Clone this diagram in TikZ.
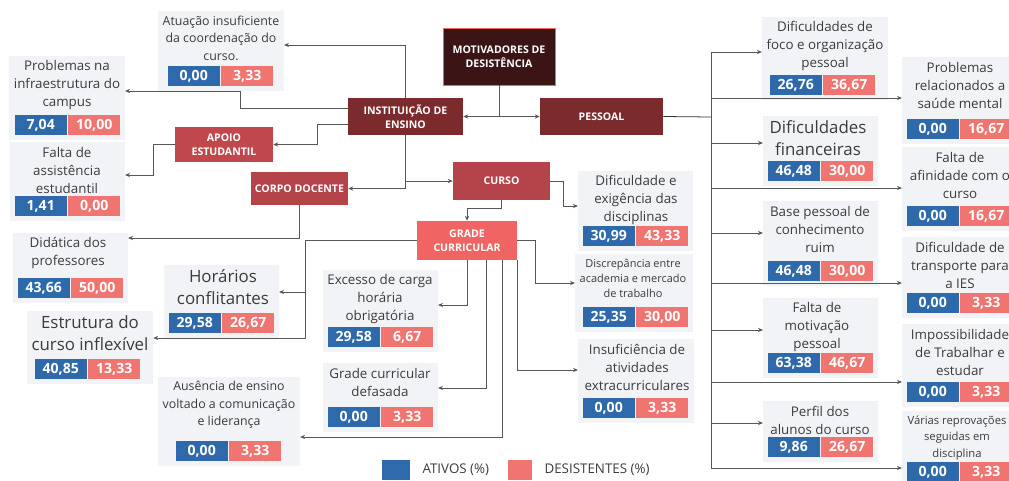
\documentclass[tikz,border=0pt]{standalone}
\usepackage{fontspec}
\setmainfont{Open Sans}
\usepackage{tikz}
\usetikzlibrary{positioning,calc,fit,backgrounds,arrows.meta}
\definecolor{titlecol}{HTML}{3B1515}
\definecolor{maincol}{HTML}{7B2B2B}
\definecolor{subcol}{HTML}{B5434A}
\definecolor{apoiocol}{HTML}{C0474C}
\definecolor{gradecol}{HTML}{F06464}
\definecolor{ativocol}{HTML}{2E69AB}
\definecolor{desistcol}{HTML}{F07470}
\definecolor{panelcol}{HTML}{F1F3F6}
\definecolor{linecol}{HTML}{575757}
\definecolor{txtcol}{HTML}{3C3C3C}

\begin{document}
\begin{tikzpicture}[x=0.025cm, y=-0.025cm,
		>={Stealth[length=3.5pt,width=3pt]},
		conn/.style={draw=linecol, line width=0.55pt},
		cat/.style={text=white, font=\fontsize{7.5}{10}\selectfont\bfseries, align=center, inner sep=0pt},
		leaf/.style={align=center, inner sep=0pt, text=txtcol},
		tinytxt/.style={font=\fontsize{7.8}{10.7}\selectfont},
		smalltxt/.style={font=\fontsize{8.8}{12.5}\selectfont},
		medtxt/.style={font=\fontsize{9.5}{12.8}\selectfont},
		bigtxt/.style={font=\fontsize{12}{15.5}\selectfont},
		ativo/.style={fill=ativocol, text=white, font=\fontsize{10}{12}\selectfont\bfseries, minimum width=1.3cm, minimum height=0.5cm, inner sep=0pt},
		desist/.style={ativo, fill=desistcol},
		panel/.style={fill=panelcol, inner sep=3pt}]
			\useasboundingbox (0,0) rectangle (1009,481);
			\clip (0,0) rectangle (1009,481);
			% categorias
			\node[cat, fill=titlecol, draw=gradecol, minimum width=2.8cm, minimum height=1.425cm] (title) at (499,56.5) {MOTIVADORES DE\\DESISTÊNCIA} ;
			\node[cat, fill=maincol, minimum width=2.875cm, minimum height=0.925cm] (inst) at (405.5,116.5) {INSTITUIÇÃO DE\\ENSINO} ;
			\node[cat, fill=maincol, minimum width=3.075cm, minimum height=0.925cm] (pessoal) at (601.5,116.5) {PESSOAL} ;
			\node[cat, fill=subcol, minimum width=2.425cm, minimum height=0.95cm] (curso) at (501.5,181) {CURSO} ;
			\node[cat, fill=apoiocol, minimum width=2.45cm, minimum height=0.875cm] (apoio) at (224,144.5) {APOIO\\ESTUDANTIL} ;
			\node[cat, fill=subcol, minimum width=2.425cm, minimum height=0.825cm] (corpo) at (299.5,188.5) {CORPO DOCENTE} ;
			\node[cat, fill=gradecol, minimum width=2.5cm, minimum height=0.975cm] (grade) at (467,240.5) {GRADE\\CURRICULAR} ;
			% instituicao / apoio / corpo docente
			\node[leaf, smalltxt] (atu-t) at (221,38) {Atuação insuficiente\\da coordenação do\\curso.} ;
			\node[ativo, anchor=east] (atu-a) at (220,76) {0,00} ;
			\node[desist, right=0.7pt of atu-a] (atu-d) {3,33} ;
			\node[leaf, medtxt] (infra-t) at (67,85) {Problemas na\\infraestrutura do\\campus} ;
			\node[ativo, anchor=east] (infra-a) at (67,125) {7,04} ;
			\node[desist, right=0.7pt of infra-a] (infra-d) {10,00} ;
			\node[leaf, medtxt] (assist-t) at (67,170) {Falta de\\assistência\\estudantil} ;
			\node[ativo, anchor=east] (assist-a) at (67,206) {1,41} ;
			\node[desist, right=0.7pt of assist-a] (assist-d) {0,00} ;
			\node[leaf, medtxt] (didat-t) at (68,253) {Didática dos\\professores} ;
			\node[ativo, anchor=east] (didat-a) at (70,288) {43,66} ;
			\node[desist, right=0.7pt of didat-a] (didat-d) {50,00} ;
			% grade curricular
			\node[leaf, bigtxt] (horar-t) at (223,287) {Horários\\conflitantes} ;
			\node[ativo, anchor=east] (horar-a) at (221,323) {29,58} ;
			\node[desist, right=0.7pt of horar-a] (horar-d) {26,67} ;
			\node[leaf, bigtxt] (estrut-t) at (90,333) {Estrutura do\\curso inflexível} ;
			\node[ativo, anchor=east] (estrut-a) at (87,369) {40,85} ;
			\node[desist, right=0.7pt of estrut-a] (estrut-d) {13,33} ;
			\node[leaf, smalltxt] (ausen-t) at (229,405) {Ausência de ensino\\voltado a comunicação\\e liderança} ;
			\node[ativo, anchor=east] (ausen-a) at (228,451) {0,00} ;
			\node[desist, right=0.7pt of ausen-a] (ausen-d) {3,33} ;
			\node[leaf, medtxt] (exces-t) at (380,299) {Excesso de carga\\horária\\obrigatória} ;
			\node[ativo, anchor=east] (exces-a) at (380,337) {29,58} ;
			\node[desist, right=0.7pt of exces-a] (exces-d) {6,67} ;
			\node[leaf, medtxt] (defas-t) at (380,382) {Grade curricular\\defasada} ;
			\node[ativo, anchor=east] (defas-a) at (380,417) {0,00} ;
			\node[desist, right=0.7pt of defas-a] (defas-d) {3,33} ;
			% curso
			\node[leaf, medtxt] (dific-t) at (636,200) {Dificuldade e\\exigência das\\disciplinas} ;
			\node[ativo, anchor=east] (dific-a) at (635,236) {30,99} ;
			\node[desist, right=0.7pt of dific-a] (dific-d) {43,33} ;
			\node[leaf, tinytxt] (discr-t) at (633,278) {Discrepância entre\\academia e mercado\\de trabalho} ;
			\node[ativo, anchor=east] (discr-a) at (635,317) {25,35} ;
			\node[desist, right=0.7pt of discr-a] (discr-d) {30,00} ;
			\node[leaf, medtxt] (insuf-t) at (637,367) {Insuficiência de\\atividades\\extracurriculares} ;
			\node[ativo, anchor=east] (insuf-a) at (635,408) {0,00} ;
			\node[desist, right=0.7pt of insuf-a] (insuf-d) {3,33} ;
			% pessoal
			\node[leaf, medtxt] (foco-t) at (825,46) {Dificuldades de\\foco e organização\\pessoal} ;
			\node[ativo, anchor=east] (foco-a) at (822,85) {26,76} ;
			\node[desist, right=0.7pt of foco-a] (foco-d) {36,67} ;
			\node[leaf, bigtxt] (finan-t) at (818,138) {Dificuldades\\financeiras} ;
			\node[ativo, anchor=east] (finan-a) at (820,171) {46,48} ;
			\node[desist, right=0.7pt of finan-a] (finan-d) {30,00} ;
			\node[leaf, medtxt] (base-t) at (820,229) {Base pessoal de\\conhecimento\\ruim} ;
			\node[ativo, anchor=east] (base-a) at (820,271) {46,48} ;
			\node[desist, right=0.7pt of base-a] (base-d) {30,00} ;
			\node[leaf, medtxt] (motiv-t) at (817,327) {Falta de\\motivação\\pessoal} ;
			\node[ativo, anchor=east] (motiv-a) at (820,363) {63,38} ;
			\node[desist, right=0.7pt of motiv-a] (motiv-d) {46,67} ;
			\node[leaf, medtxt] (perfil-t) at (820,420) {Perfil dos\\alunos do curso} ;
			\node[ativo, anchor=east] (perfil-a) at (820,447) {9,86} ;
			\node[desist, right=0.7pt of perfil-a] (perfil-d) {26,67} ;
			\node[leaf, medtxt] (saude-t) at (960,85) {Problemas\\relacionados a\\saúde mental} ;
			\node[ativo, anchor=east] (saude-a) at (959,129) {0,00} ;
			\node[desist, right=0.7pt of saude-a] (saude-d) {16,67} ;
			\node[leaf, medtxt] (afin-t) at (960,175) {Falta de\\afinidade com o\\curso} ;
			\node[ativo, anchor=east] (afin-a) at (959,216) {0,00} ;
			\node[desist, right=0.7pt of afin-a] (afin-d) {16,67} ;
			\node[leaf, medtxt] (transp-t) at (960,265) {Dificuldade de\\transporte para\\a IES} ;
			\node[ativo, anchor=east] (transp-a) at (959,303) {0,00} ;
			\node[desist, right=0.7pt of transp-a] (transp-d) {3,33} ;
			\node[leaf, medtxt] (imposs-t) at (960,352) {Impossibilidade\\de Trabalhar e\\estudar} ;
			\node[ativo, anchor=east] (imposs-a) at (959,392) {0,00} ;
			\node[desist, right=0.7pt of imposs-a] (imposs-d) {3,33} ;
			\node[leaf, font=\fontsize{8}{11.7}\selectfont] (repro-t) at (957,438) {Várias reprovações\\seguidas em\\disciplina} ;
			\node[ativo, anchor=east] (repro-a) at (959,472) {0,00} ;
			\node[desist, right=0.7pt of repro-a] (repro-d) {3,33} ;
			% fundos cinza
			\begin{scope}[on background layer]
				\clip (0,0) rectangle (1009,481);
				\node[panel, fit=(atu-t)(atu-a)(atu-d)] (atu) {} ;
				\node[panel, fit=(infra-t)(infra-a)(infra-d)] (infra) {} ;
				\node[panel, fit=(assist-t)(assist-a)(assist-d)] (assist) {} ;
				\node[panel, fit=(didat-t)(didat-a)(didat-d)] (didat) {} ;
				\node[panel, fit=(horar-t)(horar-a)(horar-d)] (horar) {} ;
				\node[panel, fit=(estrut-t)(estrut-a)(estrut-d)] (estrut) {} ;
				\node[panel, fit=(ausen-t)(ausen-a)(ausen-d)] (ausen) {} ;
				\node[panel, fit=(exces-t)(exces-a)(exces-d)] (exces) {} ;
				\node[panel, fit=(defas-t)(defas-a)(defas-d)] (defas) {} ;
				\node[panel, fit=(dific-t)(dific-a)(dific-d)] (dific) {} ;
				\node[panel, fit=(discr-t)(discr-a)(discr-d)] (discr) {} ;
				\node[panel, fit=(insuf-t)(insuf-a)(insuf-d)] (insuf) {} ;
				\node[panel, fit=(foco-t)(foco-a)(foco-d)] (foco) {} ;
				\node[panel, fit=(finan-t)(finan-a)(finan-d)] (finan) {} ;
				\node[panel, fit=(base-t)(base-a)(base-d)] (base) {} ;
				\node[panel, fit=(motiv-t)(motiv-a)(motiv-d)] (motiv) {} ;
				\node[panel, fit=(perfil-t)(perfil-a)(perfil-d)] (perfil) {} ;
				\node[panel, fit=(saude-t)(saude-a)(saude-d)] (saude) {} ;
				\node[panel, fit=(afin-t)(afin-a)(afin-d)] (afin) {} ;
				\node[panel, fit=(transp-t)(transp-a)(transp-d)] (transp) {} ;
				\node[panel, fit=(imposs-t)(imposs-a)(imposs-d)] (imposs) {} ;
				\node[panel, fit=(repro-t)(repro-a)(repro-d)] (repro) {} ;
			\end{scope}
			% ligacoes
			\draw[conn,->] (title.south) |- (inst.east) ;
			\draw[conn,->] (title.south) |- (pessoal.west) ;
			\draw[conn,->] (inst.north) |- (atu.east |- 0,45) ;
			\draw[conn,->] (inst.172) -| (240,91) -- (infra.east |- 0,91) ;
			\draw[conn,->] (inst.188) -| (apoio.east -| 317,0) -- (apoio.east) ;
			\draw[conn,->] (apoio.west) -| (153,175) -- (assist.east |- 0,175) ;
			\draw[conn,->] (inst.south) |- (curso.west) ;
			\draw[conn,->] (inst.south) |- (corpo.east) ;
			\draw[conn,->] (corpo.south) |- (didat.east |- 0,238) ;
			\draw[conn,->] (curso.east) -| (563,206) -- (dific.west |- 0,206) ;
			\draw[conn,->] (curso.south) |- (grade.north |- 0,208) -- (grade.north) ;
			\draw[conn,->] (grade.west) -| (305,292) -- (horar.east |- 0,292) ;
			\draw[conn,->] (grade.west) -| (305,338) -- (estrut.east |- 0,338) ;
			\draw[conn,->] (grade.south) |- (exces.east |- 0,305) ;
			\draw[conn,->] ($(grade.south)+(19,0)$) |- (defas.east |- 0,388) ;
			\draw[conn,->] ($(grade.south)+(35,0)$) |- (ausen.east |- 0,437) ;
			\draw[conn,->] (grade.south east) |- (insuf.west |- 0,370) ;
			\draw[conn,->] (grade.east) -| (535,283) -- (discr.west |- 0,283) ;
			\coordinate (pbus) at (711,117) ;
			\draw[conn, draw=black!80] (pessoal.east) -- (pbus) ;
			\draw[conn,->] (pbus) |- (foco.west |- 0,52) ;
			\draw[conn,->] (pbus) |- (saude.west |- 0,98) ;
			\draw[conn,->] (pbus) |- (finan.west |- 0,143) ;
			\draw[conn,->] (pbus) |- (afin.west |- 0,188) ;
			\draw[conn,->] (pbus) |- (base.west |- 0,233) ;
			\draw[conn,->] (pbus) |- (transp.west |- 0,283) ;
			\draw[conn,->] (pbus) |- (motiv.west |- 0,330) ;
			\draw[conn,->] (pbus) |- (imposs.west |- 0,382) ;
			\draw[conn,->] (pbus) |- (perfil.west |- 0,423) ;
			\draw[conn,->] (pbus) |- (repro.west |- 0,468) ;
			% legenda
			\node[fill=ativocol, inner sep=0pt, minimum width=0.7cm, minimum height=0.5cm] (lg-a) at (396,470) {} ;
			\node[right=0.3cm of lg-a, inner sep=0pt, text=txtcol, font=\fontsize{9.5}{11}\selectfont] (lg-at) {ATIVOS (\%)} ;
			\node[fill=desistcol, inner sep=0pt, minimum width=0.6cm, minimum height=0.5cm] (lg-d) at (520,470) {} ;
			\node[right=0.3cm of lg-d, inner sep=0pt, text=txtcol, font=\fontsize{9.5}{11}\selectfont] (lg-dt) {DESISTENTES (\%)} ;
		\end{tikzpicture}
\end{document}
